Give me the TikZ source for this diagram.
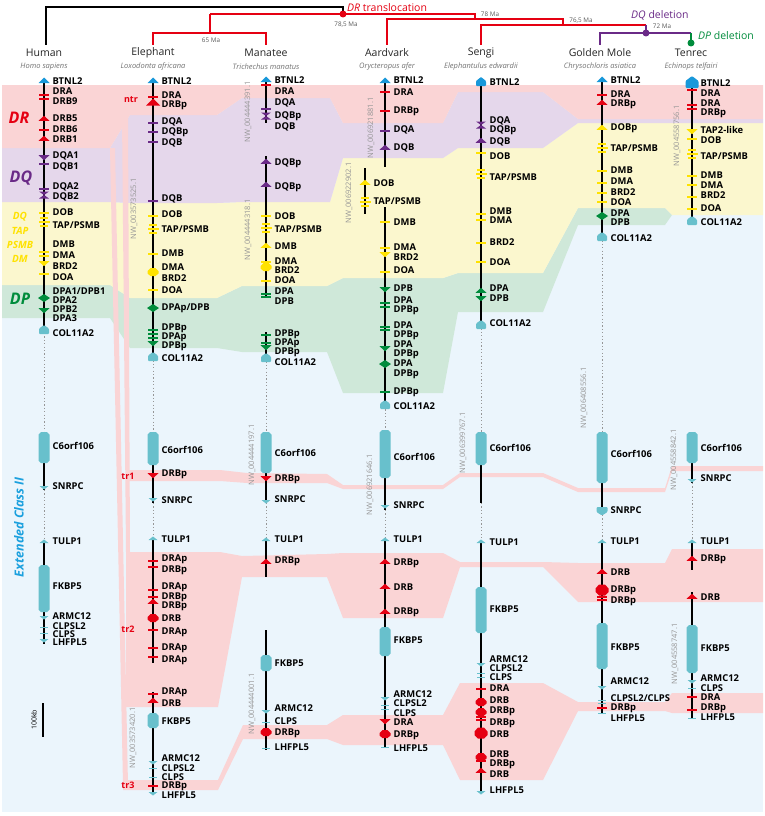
\documentclass[tikz,border=0pt]{standalone}
\usepackage{fontspec}
\setmainfont{Open Sans}
\usepackage{tikz}
% band and gene colours
\definecolor{bgblue}{RGB}{235,245,252}
\definecolor{bdr}{RGB}{250,212,213}
\definecolor{bdq}{RGB}{229,215,235}
\definecolor{bdy}{RGB}{251,247,206}
\definecolor{bdp}{RGB}{207,232,217}
\definecolor{gred}{RGB}{229,0,18}
\definecolor{gpurple}{RGB}{106,42,135}
\definecolor{gyellow}{RGB}{255,226,0}
\definecolor{ggreen}{RGB}{0,140,60}
\definecolor{gteal}{RGB}{104,192,204}
\definecolor{gblue}{RGB}{24,152,218}
\definecolor{ecblue}{RGB}{27,160,222}
\definecolor{nwgray}{RGB}{150,150,150}
\colorlet{latgray}{black!55}

\newcommand{\biggene}[3]{\fill[gteal] (#1-5.5,#2+2.5) -- (#1-3,#2) -- (#1+3,#2) -- (#1+5.5,#2+2.5) -- (#1+5.5,#3-2.5) -- (#1+3,#3) -- (#1-3,#3) -- (#1-5.5,#3-2.5) -- cycle;}

\tikzset{
  chr/.style={line width=2.2pt, black},
  gap/.style={nwgray, line width=1pt, dash pattern=on 1.2pt off 2.2pt},
  glab/.style={anchor=west, inner sep=0.5pt, font=\fontsize{9.4}{10}\selectfont\bfseries},
  nwlab/.style={rotate=90, text=nwgray, inner sep=0pt, font=\fontsize{7.5}{8}\selectfont},
  sp/.style={inner sep=0pt, text=black!85, font=\fontsize{10.5}{12}\selectfont},
  lat/.style={inner sep=0pt, text=latgray, font=\fontsize{7.5}{9}\selectfont\itshape},
  ma/.style={inner sep=0pt, text=black!65, font=\fontsize{6.3}{7}\selectfont},
  band/.style={inner sep=0pt, font=\fontsize{16}{16}\selectfont\bfseries\itshape},
  tr/.style={inner sep=0pt, text=gred, font=\fontsize{9}{10}\selectfont\bfseries},
  tk/.pic={\draw[line width=1.5pt] (-5,0) -- (5,0);},
  stk/.pic={\draw[line width=1pt] (-4,0) -- (4,0);},
  up/.pic={\fill (-5.5,1.8) -- (5.5,1.8) -- (0,-3.2) -- cycle;},
  dn/.pic={\fill (-5.5,-1.8) -- (5.5,-1.8) -- (0,3.2) -- cycle;},
  bigup/.pic={\fill (-7,2.5) -- (7,2.5) -- (0,-4.5) -- cycle;},
  sup/.pic={\fill (-4.5,1) -- (4.5,1) -- (0,-2.5) -- cycle;},
  sdn/.pic={\fill (-4.5,-1) -- (4.5,-1) -- (0,2.5) -- cycle;},
  hex/.pic={\fill (-5.5,-1) -- (-2.5,-4) -- (2.5,-4) -- (5.5,-1) -- (5.5,1.5) -- (2.5,4) -- (-2.5,4) -- (-5.5,1.5) -- cycle;},
  bighex/.pic={\fill (-6.5,-1.5) -- (-3,-5.5) -- (3,-5.5) -- (6.5,-1.5) -- (6.5,2) -- (3,5.5) -- (-3,5.5) -- (-6.5,2) -- cycle;},
  dia/.pic={\fill (-6,0) -- (0,-4) -- (6,0) -- (0,4) -- cycle;},
  bow/.pic={\fill (-5,-3.5) -- (5,-3.5) -- (0,0) -- cycle; \fill (-5,3.5) -- (5,3.5) -- (0,0) -- cycle;},
  stack/.pic={\fill (-4,-4.8) rectangle (4,-2.6); \fill (-5.5,-1.2) rectangle (5.5,1.2); \fill (-4,2.6) rectangle (4,4.8);},
  col/.pic={\fill[rounded corners=1pt] (-5,-1.5) -- (0,-5) -- (5,-1.5) -- (5,4) -- (-5,4) -- cycle;},
  snrpcp/.pic={\fill[rounded corners=1pt] (-5.5,-4) -- (5.5,-4) -- (5.5,1) -- (0,4.5) -- (-5.5,1) -- cycle;},
  btnl/.pic={\fill (-5.5,2) -- (5.5,2) -- (0,-3.5) -- cycle;},
  btnlp/.pic={\fill[rounded corners=0.8pt] (-5,-1) -- (0,-5) -- (5,-1) -- (5,4) -- (-5,4) -- cycle;},
  btnlbig/.pic={\fill[rounded corners=1pt] (-6.5,-2) -- (0,-7) -- (6.5,-2) -- (6.5,5) -- (-6.5,5) -- cycle;}
}

\begin{document}
\begin{tikzpicture}[x=1pt,y=-1pt]
    \useasboundingbox (0,0) rectangle (765,816);
    \fill[white] (0,0) rectangle (765,816);
    \fill[bgblue] (2,85) rectangle (763,812);

    % conserved blocks
    \fill[bdp] (2,285) -- (110,285) -- (130,298) -- (217,298) -- (242,286) -- (327,286) -- (343,278) -- (443,278) -- (458,273) -- (543,273) -- (578,208) -- (665,208) -- (672,215) -- (665,225) -- (578,225) -- (543,312) -- (458,312) -- (443,393) -- (343,393) -- (327,352) -- (242,352) -- (217,348) -- (130,348) -- (110,318) -- (2,318) -- cycle;
    \fill[bdy] (2,202) -- (110,202) -- (130,203) -- (217,203) -- (242,202) -- (330,202) -- (343,158) -- (443,158) -- (458,148) -- (543,148) -- (578,123) -- (763,123) -- (763,215) -- (672,215) -- (665,208) -- (578,208) -- (543,273) -- (458,273) -- (443,278) -- (343,278) -- (327,286) -- (242,286) -- (217,298) -- (130,298) -- (110,285) -- (2,285) -- cycle;
    \fill[bdq] (2,148) -- (110,148) -- (130,115) -- (217,115) -- (242,98) -- (330,98) -- (343,123) -- (443,123) -- (458,92) -- (543,92) -- (578,119) -- (763,119) -- (763,123) -- (578,123) -- (543,148) -- (458,148) -- (443,158) -- (343,158) -- (330,202) -- (242,202) -- (217,203) -- (130,203) -- (110,202) -- (2,202) -- cycle;
    \fill[bdr] (2,85) -- (763,85) -- (763,119) -- (578,119) -- (543,92) -- (458,92) -- (443,123) -- (343,123) -- (330,98) -- (242,98) -- (217,115) -- (130,115) -- (110,148) -- (2,148) -- cycle;

    % translocated DR copies
    \fill[bdr] (110,148) -- (115,148) -- (128,785) -- (123,785) -- cycle;
    \fill[bdr] (122,115) -- (128,115) -- (130,552) -- (126,552) -- cycle;
    \fill[bdr] (126,470) -- (220,470) -- (247,473) -- (327,474) -- (343,485) -- (443,485) -- (460,473) -- (543,473) -- (578,488) -- (665,488) -- (672,466) -- (763,466) -- (763,471) -- (672,471) -- (665,492) -- (578,492) -- (543,477) -- (460,477) -- (443,489) -- (343,489) -- (327,483) -- (247,483) -- (220,481) -- (126,481) -- cycle;
    \fill[bdr] (126,552) -- (220,552) -- (242,556) -- (327,554) -- (343,553) -- (443,553) -- (460,562) -- (543,562) -- (578,563) -- (665,563) -- (672,549) -- (763,549) -- (763,602) -- (578,602) -- (543,567) -- (460,567) -- (443,618) -- (343,618) -- (327,577) -- (242,577) -- (218,707) -- (126,707) -- cycle;
    \fill[bdr] (123,780) -- (218,780) -- (243,725) -- (327,725) -- (343,715) -- (443,715) -- (460,683) -- (543,683) -- (578,702) -- (665,702) -- (672,693) -- (763,693) -- (763,713) -- (672,713) -- (665,711) -- (578,711) -- (543,780) -- (460,780) -- (443,745) -- (343,745) -- (327,739) -- (243,739) -- (218,790) -- (123,790) -- cycle;

    % tree
    \draw[line width=1.2pt] (46,45) -- (46,7) -- (343,7) -- (343,14);
    \draw[gred,line width=1.2pt] (210,14) -- (475,14) -- (475,19);
    \draw[gred,line width=1.2pt] (153,45) -- (153,33) -- (266,33) -- (266,45);
    \draw[gred,line width=1.2pt] (210,14) -- (210,33);
    \draw[gred,line width=1.2pt] (387,45) -- (387,19) -- (563,19) -- (563,25);
    \draw[gred,line width=1.2pt] (481,45) -- (481,25) -- (646,25);
    \draw[gpurple,line width=1.2pt] (646,25) -- (646,33);
    \draw[gpurple,line width=1.2pt] (600,45) -- (600,33) -- (691,33);
    \draw[ggreen,line width=1.2pt] (691,33) -- (691,43);
    \fill[gred] (343,14) circle (3.5);
    \fill[gpurple] (646,33) circle (3.5);
    \fill[ggreen] (691,43) circle (3.5);
    \node[anchor=west, inner sep=0pt, text=gred, font=\fontsize{10.5}{12}\selectfont] (drt) at (347,8) {\textit{DR} translocation};
    \node[anchor=west, inner sep=0pt, text=gpurple, font=\fontsize{10.5}{12}\selectfont] (dqd) at (631,15) {\textit{DQ} deletion};
    \node[anchor=west, inner sep=0pt, text=ggreen, font=\fontsize{10.5}{12}\selectfont] (dpd) at (698,36) {\textit{DP} deletion};
    \node[ma] (m785) at (346,25) {78,5 Ma};
    \node[ma] (m65) at (211,40) {65 Ma};
    \node[ma] (m78) at (490,14) {78 Ma};
    \node[ma] (m765) at (581,21) {76,5 Ma};
    \node[ma] (m72) at (662,26) {72 Ma};
    \foreach \x/\n/\l [count=\i] in {44/Human/Homo sapiens, 153/Elephant/Loxodonta africana, 266/Manatee/Trichechus manatus, 387/Aardvark/Orycteropus afer, 481/Sengi/Elephantulus edwardii, 600/Golden Mole/Chrysochloris asiatica, 691/Tenrec/Echinops telfairi} {
        \node[sp] (sp\i) at (\x,53) {\n};
        \node[lat] (lat\i) at (\x,67) {\l};
    }

    % left legend
    \node[band, text=gred] (lDR) at (19,118) {DR};
    \node[band, text=gpurple] (lDQ) at (21,178) {DQ};
    \node[band, text=ggreen] (lDP) at (20,299) {DP};
    \foreach \y/\t [count=\i] in {217/DQ, 231/TAP, 245/PSMB, 259/DM}
        \node[inner sep=0pt, text=gyellow, font=\fontsize{10}{10}\selectfont\bfseries\itshape] (ly\i) at (20,\y) {\t};
    \node[rotate=90, inner sep=0pt, text=ecblue, font=\fontsize{12.5}{14}\selectfont\bfseries\itshape] (ecII) at (19,527) {Extended Class II};
    \draw[line width=2pt] (43,703) -- (43,737);
    \node[rotate=90, inner sep=0pt, font=\fontsize{7}{7}\selectfont] (kb) at (34,720) {100kb};

    % Human
    \def\cx{44}
    \draw[chr] (\cx,81) -- (\cx,333);
    \draw[gap] (\cx,333) -- (\cx,432);
    \draw[chr] (\cx,463) -- (\cx,490);
    \draw[gap] (\cx,490) -- (\cx,542);
    \draw[chr] (\cx,542) -- (\cx,644);
    \biggene{\cx}{432}{463}
    \biggene{\cx}{565}{612}
    \foreach \y/\m/\c in {81/btnl/gblue, 95/tk/gred, 99/tk/gred, 119/up/gred, 130/tk/gred, 139/up/gred, 157/dn/gpurple, 164/tk/gpurple, 189/tk/gpurple, 195/bow/gpurple, 213/tk/gyellow, 222/stack/gyellow, 252/tk/gyellow, 256/tk/gyellow, 263/dn/gyellow, 274/tk/gyellow, 298/dia/ggreen, 310/dn/ggreen, 330/col/gteal, 487/sdn/gteal, 542/sup/gteal, 617/sdn/gteal, 627/stk/gteal, 633/stk/gteal, 640/sdn/gteal}
        \pic[color=\c] at (\cx,\y) {\m};
    \foreach \y/\t in {81/BTNL2, 91/DRA, 101/DRB9, 118/DRB5, 129/DRB6, 139/DRB1, 156/DQA1, 167/DQB1, 187/DQA2, 197/DQB2, 212/DOB, 225/{TAP/PSMB}, 244/DMB, 255/DMA, 266/BRD2, 277/DOA, 291/{DPA1/DPB1}, 300/DPA2, 309/DPB2, 318/DPA3, 333/COL11A2, 446/C6orf106, 486/SNRPC, 541/TULP1, 586/FKBP5, 616/ARMC12, 626/CLPSL2, 634/CLPS, 642/LHFPL5}
        \node[glab] (hu\y) at (\cx+8,\y) {\t};

    % Elephant
    \def\cx{153}
    \draw[chr] (\cx,81) -- (\cx,357);
    \draw[gap] (\cx,357) -- (\cx,432);
    \draw[chr] (\cx,465) -- (\cx,503);
    \draw[gap] (\cx,503) -- (\cx,539);
    \draw[chr] (\cx,539) -- (\cx,663);
    \draw[chr] (\cx,692) -- (\cx,794);
    \biggene{\cx}{432}{465}
    \biggene{\cx}{713}{728}
    \foreach \y/\m/\c in {81/btnl/gblue, 97/tk/gred, 103/bigup/gred, 123/tk/gpurple, 132/tk/gpurple, 142/tk/gpurple, 201/tk/gpurple, 216/tk/gyellow, 229/stack/gyellow, 254/tk/gyellow, 272/hex/gyellow, 290/tk/gyellow, 308/dia/ggreen, 330/tk/ggreen, 334/tk/ggreen, 338/tk/ggreen, 343/dn/ggreen, 357/col/gteal, 475/dn/gred, 499/sdn/gteal, 539/sup/gteal, 561/tk/gred, 567/tk/gred, 590/tk/gred, 597/tk/gred, 602/up/gred, 618/hex/gred, 630/tk/gred, 648/tk/gred, 657/tk/gred, 694/tk/gred, 701/up/gred, 762/sdn/gteal, 768/stk/gteal, 777/stk/gteal, 786/tk/gred, 793/sdn/gteal}
        \pic[color=\c] at (\cx,\y) {\m};
    \foreach \y/\t in {81/BTNL2, 95/DRA, 105/DRBp, 122/DQA, 132/DQBp, 143/DQB, 199/DQB, 214/DOB, 229/{TAP/PSMB}, 253/DMB, 267/DMA, 278/BRD2, 290/DOA, 308/{DPAp/DPB}, 328/DPBp, 337/DPAp, 346/DPBp, 358/COL11A2, 450/C6orf106, 474/DRBp, 500/SNRPC, 539/TULP1, 559/DRAp, 570/DRBp, 587/DRAp, 597/DRBp, 606/DRBp, 618/DRB, 632/DRAp, 648/DRAp, 660/DRAp, 692/DRAp, 703/DRB, 721/FKBP5, 758/ARMC12, 768/CLPSL2, 777/CLPS, 786/DRBp, 795/LHFPL5}
        \node[glab] (el\y) at (\cx+8,\y) {\t};
    \node[tr] (ntr) at (131,100) {ntr};
    \node[tr] (tr1) at (128,476) {tr1};
    \node[tr] (tr2) at (128,629) {tr2};
    \node[tr] (tr3) at (128,785) {tr3};
    \node[nwlab] (nwel1) at (134,209) {NW\_003573525.1};
    \node[nwlab] (nwel2) at (133,738) {NW\_003573420.1};

    % Manatee
    \def\cx{266}
    \draw[chr] (\cx,80) -- (\cx,123);
    \draw[chr] (\cx,156) -- (\cx,298);
    \draw[chr] (\cx,332) -- (\cx,358);
    \draw[gap] (\cx,358) -- (\cx,432);
    \draw[chr] (\cx,473) -- (\cx,503);
    \draw[gap] (\cx,503) -- (\cx,540);
    \draw[chr] (\cx,540) -- (\cx,577);
    \draw[chr] (\cx,630) -- (\cx,750);
    \biggene{\cx}{432}{473}
    \biggene{\cx}{655}{671}
    \foreach \y/\m/\c in {80/btnl/gblue, 85/tk/gred, 109/tk/gpurple, 116/bow/gpurple, 162/up/gpurple, 185/up/gpurple, 216/tk/gyellow, 228/stack/gyellow, 246/up/gyellow, 262/tk/gyellow, 267/hex/gyellow, 281/tk/gyellow, 294/tk/ggreen, 297/tk/ggreen, 335/tk/ggreen, 343/tk/ggreen, 347/dn/ggreen, 358/col/gteal, 478/dn/gred, 501/sdn/gteal, 540/sup/gteal, 562/up/gred, 711/sdn/gteal, 722/stk/gteal, 732/hex/gred, 748/stk/gteal}
        \pic[color=\c] at (\cx,\y) {\m};
    \foreach \y/\t in {80/BTNL2, 91/DRA, 103/DQA, 116/DQBp, 127/DQB, 163/DQBp, 187/DQBp, 216/DOB, 229/{TAP/PSMB}, 246/DMB, 261/DMA, 270/BRD2, 280/DOA, 291/DPA, 301/DPB, 334/DPBp, 343/DPAp, 352/DPBp, 362/COL11A2, 453/C6orf106, 479/DRBp, 499/SNRPC, 539/TULP1, 561/DRBp, 663/FKBP5, 708/ARMC12, 721/CLPS, 733/DRBp, 747/LHFPL5}
        \node[glab] (mn\y) at (\cx+8,\y) {\t};
    \node[nwlab] (nwmn1) at (248,112) {NW\_004444391.1};
    \node[nwlab] (nwmn2) at (248,230) {NW\_004444318.1};
    \node[nwlab] (nwmn3) at (252,455) {NW\_004444197.1};
    \node[nwlab] (nwmn4) at (252,704) {NW\_004444001.1};

    % Aardvark
    \def\cx{385}
    \draw[chr] (\cx,81) -- (\cx,167);
    \draw[chr] (365,168) -- (365,214);
    \draw[chr] (\cx,207) -- (\cx,406);
    \draw[gap] (\cx,406) -- (\cx,430);
    \draw[chr] (\cx,478) -- (\cx,510);
    \draw[gap] (\cx,510) -- (\cx,540);
    \draw[chr] (\cx,540) -- (\cx,748);
    \biggene{\cx}{430}{478}
    \biggene{\cx}{627}{656}
    \foreach \y/\m/\c in {81/btnl/gblue, 92/tk/gred, 111/tk/gred, 131/tk/gpurple, 148/up/gpurple, 222/tk/gyellow, 248/tk/gyellow, 254/dn/gyellow, 272/tk/gyellow, 289/dn/ggreen, 303/tk/ggreen, 307/tk/ggreen, 327/tk/ggreen, 330/tk/ggreen, 348/dn/ggreen, 364/dia/ggreen, 392/tk/ggreen, 405/col/gteal, 506/sdn/gteal, 540/sup/gteal, 562/up/gred, 587/up/gred, 612/up/gred, 698/sdn/gteal, 705/stk/gteal, 709/stk/gteal, 721/dn/gred, 734/hex/gred, 747/stk/gteal}
        \pic[color=\c] at (\cx,\y) {\m};
    \foreach \y/\m in {183/up, 202/stack}
        \pic[color=gyellow] at (365,\y) {\m};
    \foreach \y/\t in {80/BTNL2, 92/DRA, 111/DRBp, 130/DQA, 148/DQB, 222/DMB, 247/DMA, 257/BRD2, 270/DOA, 288/DPB, 300/DPA, 310/DPBp, 325/DPA, 335/DPBp, 344/DPA, 354/DPBp, 363/DPA, 374/DPBp, 392/DPBp, 406/COL11A2, 457/C6orf106, 505/SNRPC, 539/TULP1, 563/DRBp, 587/DRB, 612/DRBp, 640/FKBP5, 694/ARMC12, 703/CLPSL2, 713/CLPS, 722/DRA, 735/DRBp, 748/LHFPL5}
        \node[glab] (aa\y) at (\cx+8,\y) {\t};
    \foreach \y/\t in {183/DOB, 201/{TAP/PSMB}}
        \node[glab] (ab\y) at (373,\y) {\t};
    \node[nwlab] (nwaa1) at (371,128) {NW\_006921881.1};
    \node[nwlab] (nwaa2) at (349,193) {NW\_006922902.1};
    \node[nwlab] (nwaa3) at (370,485) {NW\_006921646.1};

    % Sengi
    \def\cx{481}
    \draw[chr] (\cx,82) -- (\cx,325);
    \draw[gap] (\cx,325) -- (\cx,432);
    \draw[chr] (\cx,465) -- (\cx,503);
    \draw[gap] (\cx,503) -- (\cx,542);
    \draw[chr] (\cx,542) -- (\cx,793);
    \biggene{\cx}{432}{465}
    \biggene{\cx}{587}{633}
    \foreach \y/\m/\c in {82/btnlp/gblue, 125/bow/gpurple, 141/up/gpurple, 153/tk/gyellow, 174/stack/gyellow, 214/tk/gyellow, 220/tk/gyellow, 243/tk/gyellow, 262/tk/gyellow, 291/up/ggreen, 298/dn/ggreen, 325/col/gteal, 542/sup/gteal, 664/sdn/gteal, 673/stk/gteal, 677/stk/gteal, 689/tk/gred, 702/hex/gred, 712/hex/gred, 717/tk/gred, 720/tk/gred, 733/bighex/gred, 757/hex/gred, 761/tk/gred, 771/up/gred, 792/sdn/gteal}
        \pic[color=\c] at (\cx,\y) {\m};
    \foreach \y/\t in {82/BTNL2, 121/DQA, 130/DQBp, 142/DQB, 156/DOB, 177/{TAP/PSMB}, 211/DMB, 220/DMA, 242/BRD2, 262/DOA, 288/DPA, 298/DPB, 323/COL11A2, 448/C6orf106, 542/TULP1, 609/FKBP5, 659/ARMC12, 668/CLPSL2, 677/CLPS, 688/DRA, 700/DRB, 711/DRBp, 723/DRBp, 734/DRB, 754/DRB, 764/DRBp, 774/DRB, 790/LHFPL5}
        \node[glab] (se\y) at (\cx+8,\y) {\t};
    \node[nwlab] (nwse) at (463,443) {NW\_006399767.1};

    % Golden Mole
    \def\cx{602}
    \draw[chr] (\cx,80) -- (\cx,237);
    \draw[gap] (\cx,237) -- (\cx,432);
    \draw[chr] (\cx,483) -- (\cx,515);
    \draw[gap] (\cx,515) -- (\cx,542);
    \draw[chr] (\cx,542) -- (\cx,714);
    \biggene{\cx}{432}{483}
    \biggene{\cx}{623}{669}
    \foreach \y/\m/\c in {80/btnl/gblue, 95/tk/gred, 103/up/gred, 128/up/gyellow, 148/stack/gyellow, 171/tk/gyellow, 183/tk/gyellow, 193/tk/gyellow, 202/tk/gyellow, 216/dia/ggreen, 237/col/gteal, 511/snrpcp/gteal, 542/sup/gteal, 572/up/gred, 590/bighex/gred, 597/tk/gred, 600/tk/gred, 687/sdn/gteal, 700/stk/gteal, 703/stk/gteal, 708/tk/gred, 713/stk/gteal}
        \pic[color=\c] at (\cx,\y) {\m};
    \foreach \y/\t in {80/BTNL2, 94/DRA, 104/DRBp, 128/DOBp, 148/{TAP/PSMB}, 170/DMB, 181/DMA, 192/BRD2, 202/DOA, 213/DPA, 222/DPB, 238/COL11A2, 454/C6orf106, 510/SNRPC, 541/TULP1, 572/DRB, 590/DRBp, 601/DRBp, 647/FKBP5, 681/ARMC12, 698/{CLPSL2/CLPS}, 708/DRBp, 718/LHFPL5}
        \node[glab] (gm\y) at (\cx+8,\y) {\t};
    \node[nwlab] (nwgm) at (584,398) {NW\_006408556.1};

    % Tenrec
    \def\cx{692}
    \draw[chr] (\cx,83) -- (\cx,221);
    \draw[chr] (\cx,463) -- (\cx,483);
    \draw[gap] (\cx,483) -- (\cx,542);
    \draw[chr] (\cx,542) -- (\cx,570);
    \draw[chr] (\cx,592) -- (\cx,718);
    \biggene{\cx}{432}{463}
    \biggene{\cx}{625}{673}
    \foreach \y/\m/\c in {83/btnlbig/gblue, 90/tk/gred, 105/tk/gred, 109/tk/gred, 131/dn/gyellow, 139/tk/gyellow, 154/stack/gyellow, 176/tk/gyellow, 185/tk/gyellow, 197/tk/gyellow, 209/tk/gyellow, 221/col/gteal, 480/sdn/gteal, 542/sup/gteal, 559/up/gred, 597/up/gred, 681/sdn/gteal, 688/stk/gteal, 697/tk/gred, 710/tk/gred, 718/stk/gteal}
        \pic[color=\c] at (\cx,\y) {\m};
    \foreach \y/\t in {83/BTNL2, 93/DRA, 103/DRA, 113/DRBp, 130/TAP2-like, 140/DOB, 156/{TAP/PSMB}, 175/DMB, 185/DMA, 195/BRD2, 208/DOA, 222/COL11A2, 448/C6orf106, 478/SNRPC, 541/TULP1, 559/DRBp, 597/DRB, 648/FKBP5, 678/ARMC12, 688/CLPS, 697/DRA, 708/DRBp, 717/LHFPL5}
        \node[glab] (te\y) at (\cx+8,\y) {\t};
    \node[nwlab] (nwte1) at (677,136) {NW\_004558756.1};
    \node[nwlab] (nwte2) at (674,460) {NW\_004558842.1};
    \node[nwlab] (nwte3) at (675,654) {NW\_004558747.1};
\end{tikzpicture}
\end{document}
